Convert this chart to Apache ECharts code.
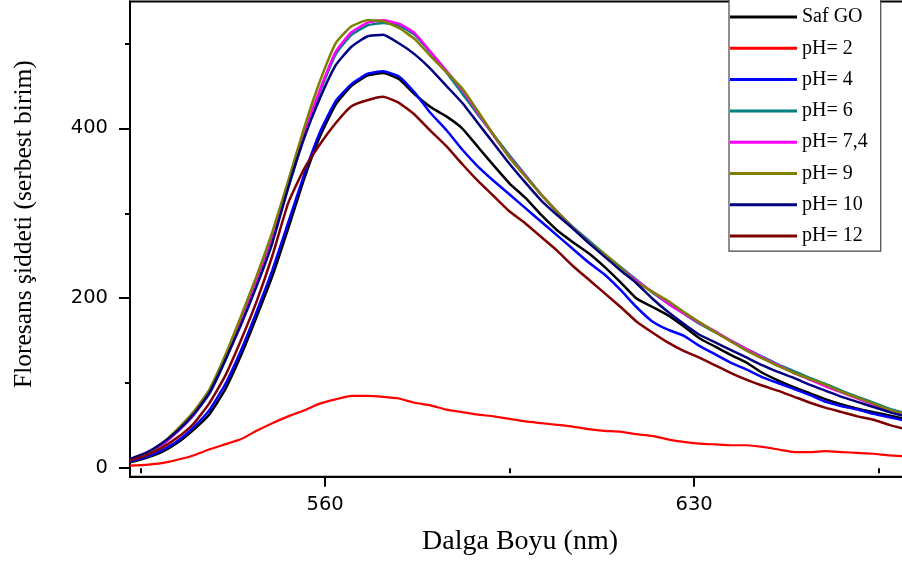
<!DOCTYPE html>
<html><head><meta charset="utf-8">
<script src="https://cdn.jsdelivr.net/npm/echarts@6/dist/echarts.min.js"></script>
<style>html,body{margin:0;padding:0;background:#fff}#c{width:902px;height:564px}</style>
</head><body><div id="c"></div>
<script>
// Wavelength grid (nm)
const wavelengths = [523,526,529,532,535,538,541,544,547,550,553,556,559,562,565,568,571,574,577,580,583,586,589,592,595,598,601,604,607,610,613,616,619,622,625,628,631,634,637,640,643,646,649,652,655,658,661,664,667,670];
// Fluorescence intensities (a.u.)
const safGO = [7,12,19,30,45,63,92,132,178,226,282,340,390,428,450,462,465,458,440,425,414,400,378,356,335,318,298,280,266,253,237,219,200,190,180,167,153,143,133,124,112,103,95,88,81,75,70,66,62,58];
const pH2   = [3,4,6,10,15,22,28,34,44,53,61,68,76,81,85,85,84,82,77,74,69,66,63,61,58,55,53,51,49,46,44,43,40,38,34,31,29,28,27,27,25,22,19,19,20,19,18,17,15,14];
const pH4   = [8,13,21,32,48,68,98,138,184,233,289,345,395,432,452,464,467,461,442,418,398,375,355,338,322,306,290,274,258,242,228,210,190,173,163,156,144,134,124,116,107,100,93,86,78,73,69,64,60,56];
const pH6   = [9,16,27,43,62,87,126,172,220,272,330,390,442,487,510,521,524,521,510,489,466,441,416,392,368,345,322,302,284,268,252,237,222,207,194,182,170,160,150,140,131,122,114,106,99,91,84,77,70,65];
const pH74  = [9,16,27,43,62,88,128,174,222,274,333,393,445,490,513,524,527,523,512,490,468,445,418,391,366,344,322,302,283,266,250,236,221,208,194,182,171,161,150,140,130,121,112,104,96,89,82,75,68,63];
const pH9   = [10,17,29,46,66,92,132,178,226,278,338,400,455,500,520,527,526,518,505,485,466,447,420,392,365,343,322,302,283,266,252,236,219,208,197,184,172,160,149,138,129,120,112,105,98,90,83,76,69,64];
const pH10  = [11,18,29,44,63,88,126,168,214,265,330,388,435,474,496,508,510,500,487,470,450,430,406,382,358,336,315,298,282,265,249,233,218,200,184,170,157,148,139,130,121,113,106,98,91,84,78,72,66,61];
const pH12  = [9,15,24,36,52,76,108,150,196,250,312,352,381,406,426,433,437,430,416,397,379,358,338,320,302,288,272,256,238,222,206,190,173,160,148,138,130,121,112,104,97,91,84,77,71,66,61,57,51,46];

const seriesNames  = ['Saf GO','pH= 2','pH= 4','pH= 6','pH= 7,4','pH= 9','pH= 10','pH= 12'];
const seriesValues = [safGO, pH2, pH4, pH6, pH74, pH9, pH10, pH12];
const seriesColors = ['#000000','#ff0000','#0000ff','#008080','#ff00ff','#808000','#000080','#800000'];

const xMajorTicks = [560, 630];
const xMinorTicks = [525, 595, 665];
const yMajorTicks = [0, 200, 400];
const yMinorTicks = [100, 300, 500];

const chart = echarts.init(document.getElementById('c'), null, {renderer: 'canvas'});

const series = seriesNames.map((name, k) => ({
  name: name,
  type: 'line',
  xAxisIndex: 0,
  yAxisIndex: 0,
  data: wavelengths.map((w, i) => [w, seriesValues[k][i]]),
  showSymbol: false,
  symbol: 'none',
  smooth: 0.15,
  clip: true,
  lineStyle: {color: seriesColors[k], width: k === 1 ? 2.2 : 2.5},
  itemStyle: {color: seriesColors[k]},
  emphasis: {disabled: true},
  z: 2 + k
}));

const XMIN = 523, XMAX = 669.8, YMIN = -10, YMAX = 549.2;
const tickFont = {fontFamily: 'DejaVu Sans', fontSize: 19.5, color: '#000'};

chart.setOption({
  animation: false,
  backgroundColor: '#ffffff',
  grid: {left: 130, top: 1.5, right: -2, bottom: 87.3, show: true, borderColor: '#000', borderWidth: 2, outerBoundsMode: 'none'},
  legend: {
    data: seriesNames,
    orient: 'vertical',
    left: 729, top: -1,
    padding: [8, 13, 5, 1],
    itemWidth: 67, itemHeight: 3, itemGap: 11.3,
    icon: 'rect',
    backgroundColor: '#ffffff',
    borderColor: '#444', borderWidth: 1.2,
    textStyle: {fontFamily: 'Liberation Serif', fontSize: 20, color: '#000', lineHeight: 20},
    selectedMode: false
  },
  xAxis: [{
    type: 'value', min: XMIN, max: XMAX, position: 'bottom',
    axisLine: {show: true, onZero: false, lineStyle: {color: '#000', width: 2}},
    axisTick: {show: true, customValues: xMajorTicks, length: 10, lineStyle: {color: '#000', width: 2}},
    axisLabel: Object.assign({customValues: xMajorTicks, margin: 18}, tickFont),
    splitLine: {show: false},
    name: 'Dalga Boyu (nm)', nameLocation: 'middle', nameGap: 51,
    nameTextStyle: {fontFamily: 'Liberation Serif', fontSize: 28, color: '#000', padding: [0, 0, 0, 6]}
  }, {
    type: 'value', min: XMIN, max: XMAX, position: 'bottom', offset: 0,
    axisLine: {show: false},
    axisTick: {show: true, customValues: xMinorTicks, length: 5, lineStyle: {color: '#000', width: 2}},
    axisLabel: {show: false},
    splitLine: {show: false}
  }],
  yAxis: [{
    type: 'value', min: YMIN, max: YMAX, position: 'left',
    axisLine: {show: true, onZero: false, lineStyle: {color: '#000', width: 2}},
    axisTick: {show: true, customValues: yMajorTicks, length: 11, lineStyle: {color: '#000', width: 2}},
    axisLabel: Object.assign({customValues: yMajorTicks, margin: 22}, tickFont),
    splitLine: {show: false},
    name: 'Floresans şiddeti (serbest birim)', nameLocation: 'middle', nameGap: 93, nameRotate: 90,
    nameTextStyle: {fontFamily: 'Liberation Serif', fontSize: 25.5, color: '#000', padding: [0, 0, 0, 30]}
  }, {
    type: 'value', min: YMIN, max: YMAX, position: 'left', offset: 0,
    axisLine: {show: false},
    axisTick: {show: true, customValues: yMinorTicks, length: 5, lineStyle: {color: '#000', width: 2}},
    axisLabel: {show: false},
    splitLine: {show: false}
  }],
  series: series
});
</script>
</body></html>
